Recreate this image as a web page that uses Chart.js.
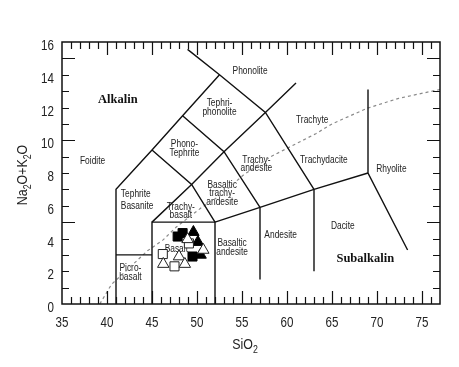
<!DOCTYPE html>
<html><head><meta charset="utf-8">
<script src="https://cdn.jsdelivr.net/npm/chart.js@4"></script>
<style>html,body{margin:0;padding:0;background:#fff}</style>
</head><body>
<canvas id="c" width="459" height="367"></canvas>
<script>
// ---- data ----
const xTicks = [35,40,45,50,55,60,65,70,75];
const yTicks = [0,2,4,6,8,10,12,14,16];
const filledSquares   = [[47.85,4.12],[48.4,4.33],[49.5,2.9]];
const filledTriangles = [[49.6,4.39],[50.1,3.78],[50.4,3.0]];
const openSquares     = [[46.2,3.05],[47.5,2.3],[49.1,3.7]];
const openTriangles   = [[48.95,3.95],[50.7,3.3],[46.25,2.44],[48.0,2.9],[48.65,2.44]];
// TAS field boundaries (SiO2, Na2O+K2O)
const boundaries = [
  [[41,0],[41,7],[45,9.4],[48.4,11.5],[52.5,14]],
  [[41,3],[45,3]],
  [[45,0],[45,5],[52,5],[52,0]],
  [[45,5],[49.4,7.3],[53,9.3],[57.6,11.7],[61,13.5]],
  [[45,9.4],[49.4,7.3],[52,5]],
  [[48.4,11.5],[53,9.3],[57,5.9]],
  [[48.95,15.55],[52.5,14],[57.6,11.7],[63,7]],
  [[52,5],[57,5.9],[63,7],[69,8]],
  [[57,1.5],[57,5.9]],
  [[63,2],[63,7]],
  [[69,13.1],[69,8],[73.4,3.3]]
];
// alkaline / subalkaline divide (dashed)
const divide = [[39.2,0],[40.5,1.2],[44.5,3.25],[46.2,3.9],[47.7,4.7],[50.4,5.85],[52.5,6.6],[55.2,7.9],[58.2,9.0],[63.2,10.4],[65,11.0],[68.9,11.95],[72.4,12.56],[77,13.1]];
const fieldLabels = [
  {t:['Phonolite'], x:55.9, y:14.24},
  {t:['Tephri-','phonolite'], x:52.5, y:12.0},
  {t:['Trachyte'], x:62.8, y:11.24},
  {t:['Trachydacite'], x:64.1, y:8.76},
  {t:['Rhyolite'], x:71.6, y:8.23},
  {t:['Trachy-','andesite'], x:56.6, y:8.55},
  {t:['Phono-','Tephrite'], x:48.6, y:9.5},
  {t:['Foidite'], x:38.4, y:8.74},
  {t:['Tephrite'], x:43.2, y:6.72},
  {t:['Basanite'], x:43.35, y:6.0},
  {t:['Trachy-','basalt'], x:48.2, y:5.68},
  {t:['Basaltic','trachy-','andesite'], x:52.8, y:6.75},
  {t:['Basalt'], x:47.7, y:3.35},
  {t:['Basaltic','andesite'], x:53.9, y:3.46},
  {t:['Picro-','basalt'], x:42.6, y:1.92},
  {t:['Andesite'], x:59.3, y:4.22},
  {t:['Dacite'], x:66.2, y:4.73}
];
const bigLabels = [
  {t:'Alkalin', x:41.2, y:12.5},
  {t:'Subalkalin', x:68.7, y:2.76}
];

const SANS = '"Liberation Sans", Arial, sans-serif';
const SQ = 0.8; // horizontal squeeze to imitate a narrow face
const toXY = arr => arr.map(p => ({x:p[0], y:p[1]}));

function narrowText(ctx, s, x, y, align){
  ctx.save();
  ctx.translate(x, y);
  ctx.scale(SQ, 1);
  ctx.textAlign = align || 'center';
  ctx.fillText(s, 0, 0);
  ctx.restore();
}

const datasets = [];
boundaries.forEach(b => datasets.push({
  data: toXY(b), showLine:true, borderColor:'#111', borderWidth:1.4,
  pointRadius:0, fill:false, order:10
}));
datasets.push({data: toXY(divide), showLine:true, borderColor:'#8a8a8a', borderWidth:1.2,
  borderDash:[3,3], pointRadius:0, fill:false, order:11});
datasets.push({data: toXY(filledSquares), pointStyle:'rect', pointRadius:6.4,
  backgroundColor:'#000', borderColor:'#000', borderWidth:1, order:3});
datasets.push({data: toXY(filledTriangles), pointStyle:'triangle', pointRadius:6.6,
  backgroundColor:'#000', borderColor:'#000', borderWidth:1, order:2});
datasets.push({data: toXY(openSquares), pointStyle:'rect', pointRadius:6.4,
  backgroundColor:'#fff', borderColor:'#222', borderWidth:1, order:1});
datasets.push({data: toXY(openTriangles), pointStyle:'triangle', pointRadius:6.6,
  backgroundColor:'#fff', borderColor:'#222', borderWidth:1, order:0});

const labelsPlugin = {
  id:'labels',
  beforeDatasetsDraw(chart){
    const {ctx, scales:{x,y}} = chart;
    ctx.save();
    ctx.fillStyle = '#222';
    ctx.textBaseline = 'middle';
    ctx.font = '10.5px ' + SANS;
    const lh = 8.6;
    fieldLabels.forEach(l => {
      const px = x.getPixelForValue(l.x), py = y.getPixelForValue(l.y);
      const n = l.t.length;
      l.t.forEach((s,i) => narrowText(ctx, s, px, py + (i - (n-1)/2)*lh, 'center'));
    });
    ctx.font = 'bold 12.5px "Liberation Serif", "Times New Roman", serif';
    ctx.fillStyle = '#111';
    ctx.textAlign = 'center';
    bigLabels.forEach(l => ctx.fillText(l.t, x.getPixelForValue(l.x), y.getPixelForValue(l.y)));
    ctx.restore();
  }
};

function drawSubText(ctx, parts, big, small){
  let w = 0;
  parts.forEach(p => { ctx.font = (p[1]?small:big) + 'px ' + SANS; w += ctx.measureText(p[0]).width; });
  let cx = -w/2;
  parts.forEach(p => {
    ctx.font = (p[1]?small:big) + 'px ' + SANS;
    ctx.fillText(p[0], cx, p[1] ? 5 : 0);
    cx += ctx.measureText(p[0]).width;
  });
}

const framePlugin = {
  id:'frame',
  afterDatasetsDraw(chart){
    const {ctx, chartArea:a, scales:{x,y}} = chart;
    ctx.save();
    ctx.strokeStyle = '#111';
    ctx.lineWidth = 1.5;
    ctx.strokeRect(a.left, a.top, a.right - a.left, a.bottom - a.top);
    ctx.lineWidth = 1.2;
    ctx.beginPath();
    for (let v = 36; v <= 76; v++){
      const px = Math.round(x.getPixelForValue(v)) + 0.5;
      const len = v % 5 === 0 ? 13 : 7;
      ctx.moveTo(px, a.bottom); ctx.lineTo(px, a.bottom - len);
      ctx.moveTo(px, a.top); ctx.lineTo(px, a.top + len);
    }
    for (let v = 1; v <= 15; v++){
      const py = Math.round(y.getPixelForValue(v)) + 0.5;
      const len = v % 5 === 0 ? 13 : 7;
      ctx.moveTo(a.left, py); ctx.lineTo(a.left + len, py);
      ctx.moveTo(a.right, py); ctx.lineTo(a.right - len, py);
    }
    ctx.stroke();
    ctx.restore();
  },
  afterDraw(chart){
    const {ctx, chartArea:a, scales:{x,y}} = chart;
    // tick labels from the scales' own ticks
    ctx.save();
    ctx.fillStyle = '#222';
    ctx.textBaseline = 'middle';
    ctx.font = '14.5px ' + SANS;
    x.ticks.forEach(t => narrowText(ctx, String(t.value), x.getPixelForValue(t.value), a.bottom + 19, 'center'));
    y.ticks.forEach(t => narrowText(ctx, String(t.value), a.left - 8, y.getPixelForValue(t.value) + 4, 'right'));
    ctx.restore();
    // axis titles
    ctx.save();
    ctx.fillStyle = '#222';
    ctx.textAlign = 'left';
    ctx.textBaseline = 'middle';
    ctx.translate((a.left + a.right)/2 - 6, 345);
    ctx.scale(SQ, 1);
    drawSubText(ctx, [['SiO',false],['2',true]], 15.5, 11);
    ctx.restore();
    ctx.save();
    ctx.fillStyle = '#222';
    ctx.textAlign = 'left';
    ctx.textBaseline = 'middle';
    ctx.translate(23, (a.top + a.bottom)/2 + 2);
    ctx.rotate(-Math.PI/2);
    ctx.scale(SQ, 1);
    drawSubText(ctx, [['Na',false],['2',true],['O+K',false],['2',true],['O',false]], 15.5, 11);
    ctx.restore();
  }
};

new Chart(document.getElementById('c'), {
  type:'scatter',
  data:{datasets},
  options:{
    responsive:false, devicePixelRatio:1, animation:false,
    layout:{padding:{top:42, right:19, left:0, bottom:0}},
    plugins:{legend:{display:false}, tooltip:{enabled:false}},
    scales:{
      x:{type:'linear', min:35, max:77,
        grid:{display:false, drawTicks:false}, border:{display:false},
        afterBuildTicks: s => { s.ticks = xTicks.map(v => ({value:v})); },
        afterFit: s => { s.height = 63; },
        ticks:{display:false}
      },
      y:{type:'linear', min:0, max:16,
        grid:{display:false, drawTicks:false}, border:{display:false},
        afterBuildTicks: s => { s.ticks = yTicks.map(v => ({value:v})); },
        afterFit: s => { s.width = 62; },
        ticks:{display:false}
      }
    }
  },
  plugins:[labelsPlugin, framePlugin]
});
</script>
</body></html>
